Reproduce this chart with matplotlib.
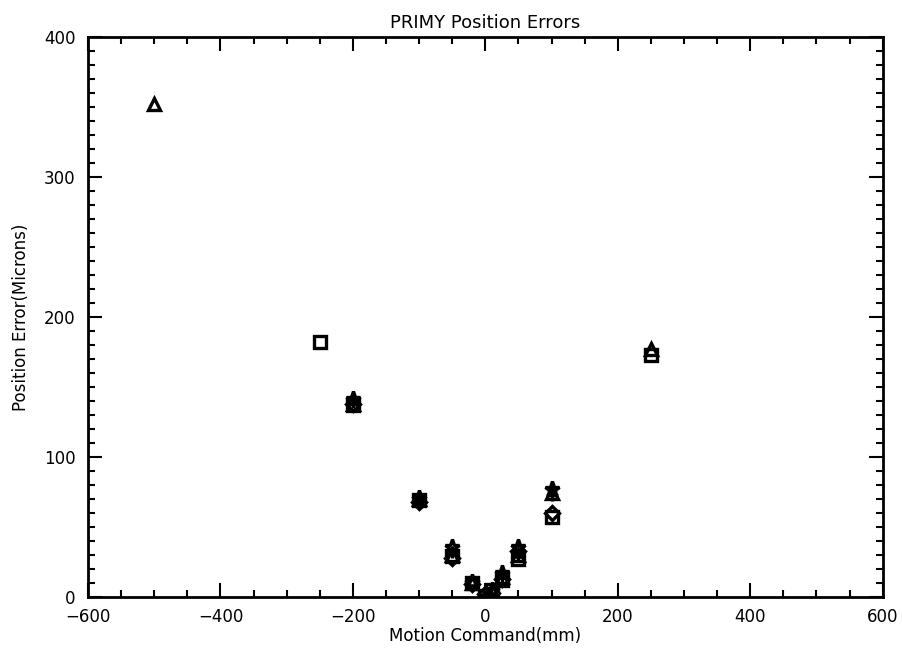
import numpy as np
import matplotlib
matplotlib.use("Agg")
import matplotlib.pyplot as plt
from matplotlib.ticker import MultipleLocator

# motion commands (mm) and the position errors (microns) of each run, one symbol per run
cmd_tri = [-500, -200, -100, -50, -20, 0, 10, 25, 50, 100, 250]
err_tri = [352, 138, 70, 30, 10, 0, 4, 14, 30, 74, 177]

cmd_sq = [-250, -200, -100, -50, -20, 0, 10, 25, 50, 100, 250]
err_sq = [182, 137, 69, 29, 10, 1, 5, 12, 27, 57, 173]

cmd_star = [-200, -100, -50, -20, 0, 10, 25, 50, 100]
err_star = [141, 71, 36, 11, 0, 5, 17, 36, 77]

cmd_dia = [-200, -100, -50, -20, 0, 10, 25, 50, 100]
err_dia = [138, 68, 28, 9, 2, 3, 13, 33, 60]

cmd_plus = [-200, -100, -50, 25, 50, 100]
err_plus = [139, 70, 32, 15, 29, 73]

fig = plt.figure(figsize=(9.02, 6.56), dpi=100)
ax = fig.add_axes([0.0976, 0.09, 0.881, 0.854])

kw = dict(color="black", linestyle="none", fillstyle="none", markeredgewidth=2.4)
ax.plot(cmd_tri, err_tri, marker="^", markersize=9, **kw)
ax.plot(cmd_sq, err_sq, marker="s", markersize=9, **kw)
ax.plot(cmd_star, err_star, marker="*", markersize=11, **kw)
ax.plot(cmd_dia, err_dia, marker="D", markersize=7, **kw)
ax.plot(cmd_plus, err_plus, marker="+", markersize=9, **kw)

ax.set_xlim(-600, 600)
ax.set_ylim(0, 400)
ax.xaxis.set_major_locator(MultipleLocator(200))
ax.xaxis.set_minor_locator(MultipleLocator(50))
ax.yaxis.set_major_locator(MultipleLocator(100))
ax.yaxis.set_minor_locator(MultipleLocator(10))
ax.tick_params(which="both", direction="in", top=True, right=True, width=1.5)
ax.tick_params(which="major", length=10, labelsize=12)
ax.tick_params(axis="x", which="major", pad=8)
ax.tick_params(axis="y", which="major", pad=9)
ax.tick_params(which="minor", length=5)
for s in ax.spines.values():
    s.set_linewidth(2)

ax.set_title("PRIMY Position Errors", fontsize=13, pad=6)
ax.set_xlabel("Motion Command(mm)", fontsize=12, labelpad=1)
ax.set_ylabel("Position Error(Microns)", fontsize=12, labelpad=10)

fig.savefig("out.png", dpi=100)
